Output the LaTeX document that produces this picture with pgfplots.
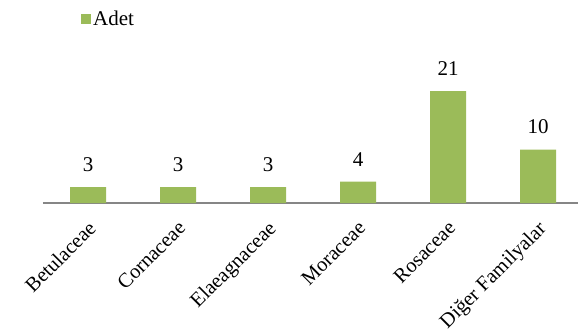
\documentclass[border=0pt]{standalone}
\usepackage{fontspec}
\setmainfont{Liberation Serif}
\usepackage{pgfplots}
\pgfplotsset{compat=1.18}
\definecolor{bargreen}{HTML}{9BBB59}
\definecolor{axisgray}{HTML}{868686}
\begin{document}
\begin{tikzpicture}[font=\fontsize{21}{24}\selectfont]
\useasboundingbox (0pt,0pt) rectangle (579pt,335pt);
\begin{axis}[
  at={(43pt,132pt)}, anchor=south west,
  scale only axis,
  width=535pt, height=133.3pt,
  xmin=-0.5, xmax=5.444,
  ymin=0, ymax=25,
  axis x line*=bottom,
  axis y line=none,
  axis line style={axisgray, line width=1.5pt, -},
  xtick={0,1,2,3,4,5},
  xticklabels={Betulaceae,Cornaceae,Elaeagnaceae,Moraceae,Rosaceae,Diğer Familyalar},
  x tick label style={rotate=45, anchor=north east, inner sep=0pt, xshift=-12.5pt, yshift=-11pt, font=\fontsize{20.5}{24}\selectfont},
  major tick length=0pt,
  /pgf/number format/assume math mode=true,
  nodes near coords,
  every node near coord/.append style={font=\fontsize{21}{24}\selectfont, yshift=12pt},
  legend style={at={(axis description cs:0.071,1.383)}, anchor=west, draw=none, fill=none, inner sep=0pt, font=\fontsize{21}{24}\selectfont},
  legend image code/.code={\fill[#1] (0pt,-5pt) rectangle (10pt,5pt);},
]
\addplot[ybar, bar width=36pt, fill=bargreen, draw=none] coordinates {(0,3) (1,3) (2,3) (3,4) (4,21) (5,10)};
\addlegendentry{Adet}
\end{axis}
\end{tikzpicture}
\end{document}
